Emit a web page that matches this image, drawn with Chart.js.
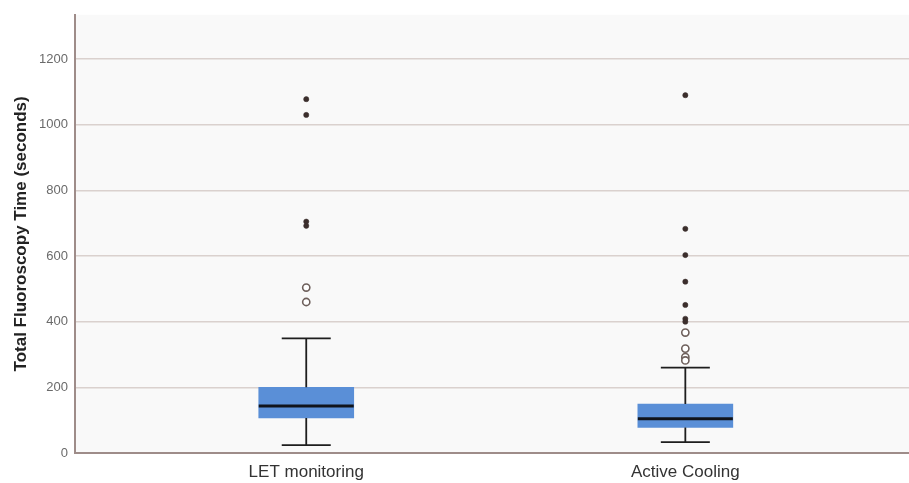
<!DOCTYPE html>
<html>
<head>
<meta charset="utf-8">
<script src="https://cdn.jsdelivr.net/npm/chart.js@4"></script>
<style>
  html, body { margin: 0; padding: 0; background: #ffffff; overflow: hidden; }
  #wrap { width: 909px; height: 483px; }
  canvas { display: block; }
</style>
</head>
<body>
<div id="wrap"><canvas id="grap" width="909" height="483"></canvas></div>
<script>
// dados
const categorias = ['LET monitoring', 'Active Cooling']
const q1 = [107, 78]
const mediana = [143, 104]
const q3 = [200, 149]
const bigodeMin = [24, 33]
const bigodeMax = [349, 260]
// outliers extremos (estrelas) e moderados (circulos)
const extremos = [[1078, 1030, 705, 692], [1090, 683, 603, 522, 451, 409, 400]]
const moderados = [[504, 460], [367, 318, 292, 282]]
const yTicks = [0, 200, 400, 600, 800, 1000, 1200]

const caixas = categorias.map((c, i) => ({ x: i + 1, y: [q1[i], q3[i]] }))
const pontosExt = []
extremos.forEach((lista, i) => lista.forEach(v => pontosExt.push({ x: i + 1, y: v })))
const pontosMod = []
moderados.forEach((lista, i) => lista.forEach(v => pontosMod.push({ x: i + 1, y: v })))

const fundoPlot = {
    id: 'fundoPlot',
    beforeDraw(chart) {
        const { ctx, chartArea } = chart
        ctx.save()
        ctx.fillStyle = '#f9f9f9'
        ctx.fillRect(chartArea.left, chartArea.top, chartArea.right - chartArea.left, chartArea.bottom - chartArea.top)
        ctx.restore()
    }
}

const bigodes = {
    id: 'bigodes',
    afterDatasetsDraw(chart) {
        const { ctx } = chart
        const xs = chart.scales.x
        const ys = chart.scales.y
        const meiaCaixa = 47.5
        const meiaTampa = 24.5
        ctx.save()
        categorias.forEach((c, i) => {
            const cx = xs.getPixelForValue(i + 1)
            ctx.strokeStyle = '#1e1e1e'
            ctx.lineWidth = 1.8
            ctx.beginPath()
            ctx.moveTo(cx, ys.getPixelForValue(q3[i]))
            ctx.lineTo(cx, ys.getPixelForValue(bigodeMax[i]))
            ctx.moveTo(cx, ys.getPixelForValue(q1[i]))
            ctx.lineTo(cx, ys.getPixelForValue(bigodeMin[i]))
            ctx.moveTo(cx - meiaTampa, ys.getPixelForValue(bigodeMax[i]))
            ctx.lineTo(cx + meiaTampa, ys.getPixelForValue(bigodeMax[i]))
            ctx.moveTo(cx - meiaTampa, ys.getPixelForValue(bigodeMin[i]))
            ctx.lineTo(cx + meiaTampa, ys.getPixelForValue(bigodeMin[i]))
            ctx.stroke()

            ctx.strokeStyle = '#10141c'
            ctx.lineWidth = 3
            ctx.beginPath()
            ctx.moveTo(cx - meiaCaixa, ys.getPixelForValue(mediana[i]))
            ctx.lineTo(cx + meiaCaixa, ys.getPixelForValue(mediana[i]))
            ctx.stroke()
        })
        ctx.restore()
    }
}

const ctx = document.getElementById('grap').getContext('2d')

new Chart(ctx, {
    type: 'bar',
    data: {
        datasets: [{
            type: 'bar',
            data: caixas,
            backgroundColor: '#5a8fd7',
            borderWidth: 0,
            barThickness: 95
        }, {
            type: 'scatter',
            data: pontosExt,
            pointStyle: 'circle',
            pointRadius: 2.6,
            backgroundColor: '#3b2e2c',
            borderColor: '#3b2e2c',
            borderWidth: 0.5
        }, {
            type: 'scatter',
            data: pontosMod,
            pointStyle: 'circle',
            pointRadius: 3.6,
            backgroundColor: '#ffffff',
            borderColor: '#6e605c',
            borderWidth: 1.6
        }]
    },
    options: {
        responsive: false,
        maintainAspectRatio: false,
        animation: false,
        layout: { autoPadding: false, padding: { top: 7, right: 0, left: 0, bottom: 0 } },
        plugins: {
            legend: { display: false },
            tooltip: { enabled: false }
        },
        scales: {
            x: {
                type: 'linear',
                min: 0.39,
                max: 2.59,
                offset: false,
                grid: { display: false, drawTicks: false, offset: false },
                border: { color: '#9e8c89', width: 2 },
                afterBuildTicks: s => { s.ticks = categorias.map((c, i) => ({ value: i + 1 })) },
                afterFit: s => { s.height = 30 },
                ticks: {
                    autoSkip: false,
                    maxRotation: 0,
                    padding: 9,
                    color: '#333333',
                    font: { family: 'Liberation Sans', size: 17 },
                    callback: v => categorias[v - 1]
                }
            },
            y: {
                min: 0,
                max: 1335,
                afterBuildTicks: s => { s.ticks = yTicks.map(v => ({ value: v })) },
                afterFit: s => { s.width = 75 },
                grid: { color: '#dad1ce', lineWidth: 1.6, drawTicks: false },
                border: { color: '#9e8c89', width: 2 },
                ticks: {
                    padding: 7,
                    color: '#6a6a6a',
                    font: { family: 'Liberation Sans', size: 13 },
                    callback: v => String(v)
                },
                title: {
                    display: true,
                    text: 'Total Fluoroscopy Time (seconds)',
                    color: '#222222',
                    font: { family: 'Liberation Sans', size: 17, weight: 'bold' },
                    padding: { top: 11, bottom: 4 }
                }
            }
        }
    },
    plugins: [fundoPlot, bigodes]
})
</script>
</body>
</html>
